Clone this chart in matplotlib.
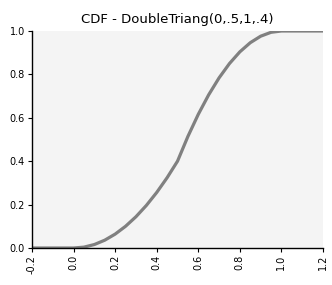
import matplotlib
matplotlib.use('Agg')
import matplotlib.pyplot as plt

# values
x_vals = [-0.2, 0.0, 0.05, 0.1, 0.15, 0.2, 0.25, 0.3, 0.35, 0.4, 0.45, 0.5,
          0.55, 0.6, 0.65, 0.7, 0.75, 0.8, 0.85, 0.9, 0.95, 1.0, 1.2]
cdf_vals = [0.0, 0.0, 0.004, 0.016, 0.036, 0.064, 0.1, 0.144, 0.196, 0.256, 0.324, 0.4,
            0.514, 0.616, 0.706, 0.784, 0.85, 0.904, 0.946, 0.976, 0.994, 1.0, 1.0]
x_ticks = [-0.2, 0.0, 0.2, 0.4, 0.6, 0.8, 1.0, 1.2]
y_ticks = [0.0, 0.2, 0.4, 0.6, 0.8, 1.0]
title = "CDF - DoubleTriang(0,.5,1,.4)"

fig = plt.figure(figsize=(3.32, 2.85), dpi=100)
ax = fig.add_axes([32 / 332, 1 - 248 / 285, 291 / 332, 217 / 285])
ax.set_facecolor('#f4f4f4')

ax.plot(x_vals, cdf_vals, color='#808080', lw=2.3, solid_capstyle='butt')

ax.set_xlim(-0.2, 1.2)
ax.set_ylim(0, 1)
ax.set_xticks(x_ticks)
ax.set_xticklabels(["%.1f" % t for t in x_ticks], rotation=90, fontsize=7)
ax.set_yticks(y_ticks)
ax.set_yticklabels(["%.1f" % t for t in y_ticks], fontsize=7)
ax.tick_params(length=3, width=0.8, pad=2)

for side in ['top', 'right']:
    ax.spines[side].set_visible(False)
for side in ['left', 'bottom']:
    ax.spines[side].set_linewidth(1.0)

ax.set_title(title, fontsize=9.5, pad=6)

fig.savefig('out.png', dpi=100)
